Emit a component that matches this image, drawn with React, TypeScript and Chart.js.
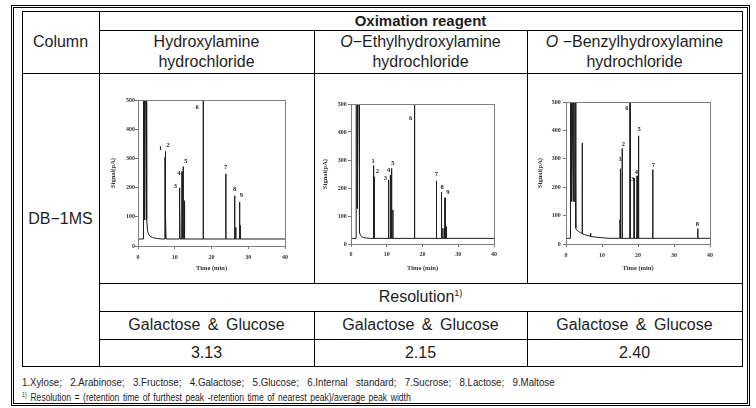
import React, { useEffect, useRef } from "react";
import { Chart, registerables } from "chart.js";
Chart.register(...registerables);

// ---------- table text ----------
const headerTitle = "Oximation reagent";
const columnLabel = "Column";
const columnName = "DB−1MS";
const reagentPrefix = ["", "O", "O"];
const reagentLine1 = ["Hydroxylamine", "−Ethylhydroxylamine", " −Benzylhydroxylamine"];
const reagentLine2 = ["hydrochloride", "hydrochloride", "hydrochloride"];
const resolutionLabel = "Resolution";
const resolutionPair = ["Galactose & Glucose", "Galactose & Glucose", "Galactose & Glucose"];
const resolutionValues = ["3.13", "2.15", "2.40"];
const footnote1 = "1.Xylose; 2.Arabinose; 3.Fructose; 4.Galactose; 5.Glucose; 6.Internal standard; 7.Sucrose; 8.Lactose; 9.Maltose";
const footnote2 = "Resolution = (retention time of furthest peak -retention time of nearest peak)/average peak width";

// ---------- axes ----------
const timeMin = 0;
const timeMax = 40;
const timeStep = 10;
const signalMin = 0;
const signalMax = 500;
const signalStep = 100;
const xTitle = "Time (min)";
const yTitle = "Signal(pA)";

// ---------- chromatogram 1 : Hydroxylamine hydrochloride ----------
const c1Baseline = 24;
const c1TraceTime = [0, 1.45, 1.5, 1.75, 1.8, 2.05, 2.1, 2.3, 2.36, 2.6, 2.9, 3.3, 4.0, 5.0, 6.5];
const c1TraceSignal = [24, 24, 600, 600, 90, 600, 600, 600, 90, 52, 40, 33, 29, 26, 24];
const c1PeakTime = [7.35, 7.45, 7.6, 11.25, 11.4, 12.0, 12.3, 12.65, 17.75, 23.9, 26.3, 26.6, 27.65, 27.85];
const c1PeakSignal = [304, 324, 100, 199, 145, 255, 272, 155, 600, 247, 172, 64, 150, 70];
const c1LabelText = ["1", "2", "3", "4", "5", "6", "7", "8", "9"];
const c1LabelTime = [6.1, 8.1, 10.2, 11.1, 13.0, 16.1, 23.85, 26.3, 28.1];
const c1LabelSignal = [333, 344, 204, 248, 289, 475, 270, 195, 175];

// ---------- chromatogram 2 : O-Ethylhydroxylamine hydrochloride ----------
const c2Baseline = 20;
const c2TraceTime = [0, 1.4, 1.45, 1.7, 1.75, 2.0, 2.05, 2.25, 2.3, 2.45, 2.7, 3.0, 3.5, 4.5, 5.5];
const c2TraceSignal = [20, 20, 600, 600, 127, 600, 600, 600, 60, 40, 31, 26, 23, 21, 20];
const c2PeakTime = [6.3, 6.5, 10.5, 11.0, 11.35, 11.7, 17.77, 23.9, 25.3, 25.7, 26.1, 26.3, 26.7];
const c2PeakSignal = [280, 240, 229, 246, 270, 122, 600, 226, 185, 56, 56, 165, 62];
const c2LabelText = ["1", "2", "3", "4", "5", "6", "7", "8", "9"];
const c2LabelTime = [6.2, 7.35, 9.6, 10.5, 11.7, 16.65, 23.9, 25.5, 27.1];
const c2LabelSignal = [296, 260, 236, 262, 287, 449, 249, 202, 185];

// ---------- chromatogram 3 : O-Benzylhydroxylamine hydrochloride ----------
const c3Baseline = 20;
const c3TraceTime = [0, 1.2, 1.25, 1.45, 1.5, 1.7, 1.75, 1.95, 2.0, 2.2, 2.25, 2.45, 2.5, 2.7, 2.75, 2.9, 3.5, 4.0, 4.4, 4.46, 4.5, 4.56, 5.2, 5.8, 6.7, 6.8, 6.9, 7.5, 8.6, 10, 12];
const c3TraceSignal = [20, 20, 600, 600, 150, 600, 600, 150, 600, 600, 150, 600, 600, 600, 56, 50, 44, 40, 38, 38, 356, 36, 33, 30, 28, 38, 27, 25, 24, 22, 20];
const c3PeakTime = [15.0, 15.15, 15.6, 17.8, 18.9, 19.0, 19.75, 20.15, 24.1, 36.6];
const c3PeakSignal = [85, 265, 336, 600, 232, 169, 240, 381, 262, 54];
const c3LabelText = ["1", "2", "6", "3", "4", "5", "7", "8"];
const c3LabelTime = [15.05, 15.97, 16.9, 18.5, 19.55, 20.3, 24.3, 36.5];
const c3LabelSignal = [297, 352, 477, 228, 251, 404, 276, 69];

const serif = "'Liberation Serif', 'Times New Roman', serif";
const sans = "'Liberation Sans', Arial, sans-serif";
const ink = "#1e1e1e";

type ChromProps = {
  left: number; top: number; width: number; height: number;
  padTop: number; padRight: number; yWidth: number; xHeight: number;
  xTickPad: number; yTickPad: number; xTitlePad: number; yTitlePad: number;
  baseline: number;
  traceTime: number[]; traceSignal: number[];
  peakTime: number[]; peakSignal: number[];
  labelText: string[]; labelTime: number[]; labelSignal: number[];
};

function Chromatogram(p: ChromProps) {
  const ref = useRef<HTMLCanvasElement>(null);
  useEffect(() => {
    if (!ref.current) return;
    const pts: { x: number; y: number }[] = [];
    p.traceTime.forEach((t, i) => pts.push({ x: t, y: p.traceSignal[i] }));
    p.peakTime.forEach((t, i) => {
      pts.push({ x: t - 0.04, y: p.baseline });
      pts.push({ x: t, y: p.peakSignal[i] });
      pts.push({ x: t + 0.04, y: p.baseline });
    });
    pts.push({ x: timeMax, y: p.baseline });

    const tickFont = { family: serif, size: 6, weight: "bold" as const };
    const titleFont = { family: serif, size: 6.5, weight: "bold" as const };

    const framePlugin = {
      id: "frame",
      afterDraw(chart: any) {
        const { ctx, chartArea: a } = chart;
        ctx.save();
        ctx.strokeStyle = "#808080";
        ctx.lineWidth = 1;
        ctx.strokeRect(Math.round(a.left) + 0.5, Math.round(a.top) + 0.5, Math.round(a.right - a.left), Math.round(a.bottom - a.top));
        ctx.restore();
      },
    };
    const labelPlugin = {
      id: "peakLabels",
      afterDatasetsDraw(chart: any) {
        const { ctx } = chart;
        const xs = chart.scales.x;
        const ys = chart.scales.y;
        ctx.save();
        ctx.fillStyle = "#222";
        ctx.font = `bold 6.5px ${serif}`;
        ctx.textAlign = "center";
        ctx.textBaseline = "middle";
        p.labelText.forEach((txt, i) => {
          ctx.fillText(txt, xs.getPixelForValue(p.labelTime[i]), ys.getPixelForValue(p.labelSignal[i]));
        });
        ctx.restore();
      },
    };

    const chart = new Chart(ref.current, {
      type: "scatter",
      data: {
        datasets: [
          {
            data: pts,
            showLine: true,
            pointRadius: 0,
            borderWidth: 1,
            borderColor: ink,
            tension: 0,
          } as any,
        ],
      },
      options: {
        animation: false,
        responsive: false,
        events: [],
        layout: { padding: { left: 0, top: p.padTop, right: p.padRight, bottom: 0 } },
        plugins: { legend: { display: false }, tooltip: { enabled: false } },
        scales: {
          x: {
            type: "linear",
            min: timeMin,
            max: timeMax,
            afterFit: (s: any) => { s.height = p.xHeight; },
            ticks: { stepSize: timeStep, font: tickFont, color: "#333", padding: p.xTickPad, maxRotation: 0, autoSkip: false },
            grid: { drawOnChartArea: false, tickLength: 3, color: "#777" },
            border: { color: "#777" },
            title: { display: true, text: xTitle, font: titleFont, color: "#333", padding: { top: 0, bottom: p.xTitlePad } },
          },
          y: {
            type: "linear",
            min: signalMin,
            max: signalMax,
            afterFit: (s: any) => { s.width = p.yWidth; },
            ticks: { stepSize: signalStep, font: tickFont, color: "#333", padding: p.yTickPad, autoSkip: false },
            grid: { drawOnChartArea: false, tickLength: 3, color: "#777" },
            border: { color: "#777" },
            title: { display: true, text: yTitle, font: titleFont, color: "#333", padding: { top: p.yTitlePad, bottom: 0 } },
          },
        },
      } as any,
      plugins: [framePlugin, labelPlugin],
    });
    return () => chart.destroy();
  }, []);
  return (
    <canvas
      ref={ref}
      width={p.width}
      height={p.height}
      style={{ position: "absolute", left: p.left, top: p.top, width: p.width, height: p.height }}
    />
  );
}

function HL({ x1, x2, y }: { x1: number; x2: number; y: number }) {
  return <div style={{ position: "absolute", left: x1, top: y, width: x2 - x1 + 1, height: 1, background: "#000" }} />;
}
function VL({ x, y1, y2 }: { x: number; y1: number; y2: number }) {
  return <div style={{ position: "absolute", left: x, top: y1, width: 1, height: y2 - y1 + 1, background: "#000" }} />;
}
function CText({ cx, cy, children, size = 16, weight = 400, spacing = 0 }: any) {
  return (
    <div
      style={{
        position: "absolute",
        left: cx - 200,
        top: cy - 10,
        width: 400,
        height: 20,
        lineHeight: "20px",
        textAlign: "center",
        fontFamily: sans,
        fontSize: size,
        fontWeight: weight,
        color: ink,
        wordSpacing: spacing,
        whiteSpace: "nowrap",
      }}
    >
      {children}
    </div>
  );
}

export default function App() {
  const colCenters = [206.5, 420.5, 634.5];
  return (
    <div style={{ position: "fixed", left: 0, top: 0, width: 756, height: 408, background: "#fff", overflow: "hidden" }}>
      {/* outer double frame */}
      <div style={{ position: "absolute", left: 11, top: 5, width: 739, height: 401, border: "1px solid #000", boxSizing: "border-box" }} />
      <div style={{ position: "absolute", left: 13, top: 7, width: 735, height: 397, border: "1px solid #000", boxSizing: "border-box" }} />

      {/* table grid */}
      <HL x1={22} x2={742} y={11} />
      <HL x1={22} x2={742} y={366} />
      <VL x={22} y1={11} y2={366} />
      <VL x={742} y1={11} y2={366} />
      <VL x={99} y1={11} y2={366} />
      <HL x1={99} x2={742} y={30} />
      <HL x1={22} x2={742} y={73} />
      <HL x1={99} x2={742} y={283} />
      <HL x1={99} x2={742} y={311} />
      <HL x1={99} x2={742} y={339} />
      <VL x={314} y1={30} y2={283} />
      <VL x={527} y1={30} y2={283} />
      <VL x={314} y1={311} y2={366} />
      <VL x={527} y1={311} y2={366} />

      {/* header */}
      <CText cx={420.5} cy={20.5} size={15} weight={700}>{headerTitle}</CText>
      <CText cx={60.5} cy={42}>{columnLabel}</CText>
      {colCenters.map((cx, i) => (
        <React.Fragment key={i}>
          <CText cx={cx} cy={42}>
            {reagentPrefix[i] ? <i>{reagentPrefix[i]}</i> : null}
            {reagentLine1[i]}
          </CText>
          <CText cx={cx} cy={62}>{reagentLine2[i]}</CText>
        </React.Fragment>
      ))}
      <CText cx={60.5} cy={219}>{columnName}</CText>

      {/* chromatograms */}
      <Chromatogram left={100} top={86} width={200} height={190} padTop={14} padRight={15} yWidth={38} xHeight={30}
        xTickPad={5} yTickPad={0} xTitlePad={4} yTitlePad={9} baseline={c1Baseline}
        traceTime={c1TraceTime} traceSignal={c1TraceSignal} peakTime={c1PeakTime} peakSignal={c1PeakSignal}
        labelText={c1LabelText} labelTime={c1LabelTime} labelSignal={c1LabelSignal} />
      <Chromatogram left={305} top={86} width={200} height={190} padTop={18} padRight={11} yWidth={46} xHeight={32}
        xTickPad={3.5} yTickPad={1.3} xTitlePad={4} yTitlePad={16.5} baseline={c2Baseline}
        traceTime={c2TraceTime} traceSignal={c2TraceSignal} peakTime={c2PeakTime} peakSignal={c2PeakSignal}
        labelText={c2LabelText} labelTime={c2LabelTime} labelSignal={c2LabelSignal} />
      <Chromatogram left={520} top={86} width={200} height={190} padTop={16} padRight={10} yWidth={46} xHeight={32}
        xTickPad={4.8} yTickPad={2.3} xTitlePad={4} yTitlePad={16.5} baseline={c3Baseline}
        traceTime={c3TraceTime} traceSignal={c3TraceSignal} peakTime={c3PeakTime} peakSignal={c3PeakSignal}
        labelText={c3LabelText} labelTime={c3LabelTime} labelSignal={c3LabelSignal} />

      {/* resolution */}
      <CText cx={420.5} cy={297}>
        {resolutionLabel}
        <sup style={{ fontSize: 9, verticalAlign: "top", lineHeight: "12px", position: "relative", top: 0 }}>1)</sup>
      </CText>
      {colCenters.map((cx, i) => (
        <CText key={"p" + i} cx={cx} cy={325} spacing={3}>{resolutionPair[i]}</CText>
      ))}
      {colCenters.map((cx, i) => (
        <CText key={"v" + i} cx={cx} cy={353}>{resolutionValues[i]}</CText>
      ))}

      {/* footnotes */}
      <div style={{ position: "absolute", left: 22, top: 375, height: 14, lineHeight: "14px", fontFamily: sans, fontSize: 11, color: ink, whiteSpace: "nowrap", wordSpacing: 6.5, transform: "scaleX(0.88)", transformOrigin: "0 0" }}>
        {footnote1}
      </div>
      <div style={{ position: "absolute", left: 22, top: 390, height: 14, lineHeight: "14px", fontFamily: sans, fontSize: 11, color: ink, whiteSpace: "nowrap", wordSpacing: 1.5, transform: "scaleX(0.78)", transformOrigin: "0 0" }}>
        <sup style={{ fontSize: 7, verticalAlign: "top", lineHeight: "10px" }}>1)</sup> {footnote2}
      </div>
    </div>
  );
}
